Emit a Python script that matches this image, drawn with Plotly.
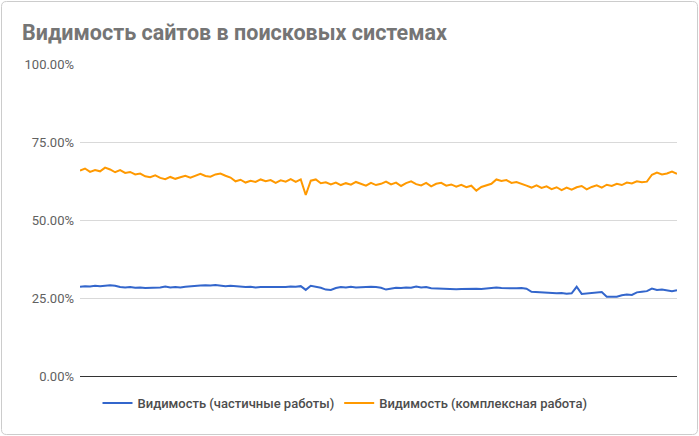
import plotly.graph_objects as go

# Series values in percent (120 samples each)
partial = [28.6, 28.8, 28.7, 28.9, 28.8, 29.0, 29.1, 28.9, 28.5, 28.4,
           28.5, 28.3, 28.4, 28.2, 28.3, 28.2, 28.4, 28.7, 28.4, 28.5,
           28.4, 28.6, 28.8, 28.9, 29.0, 29.1, 29.0, 29.2, 29.0, 28.8,
           28.9, 28.7, 28.6, 28.5, 28.6, 28.4, 28.5, 28.5, 28.6, 28.4,
           28.6, 28.5, 28.7, 28.6, 28.8, 27.6, 28.9, 28.7, 28.3, 27.7,
           27.6, 28.2, 28.5, 28.4, 28.6, 28.4, 28.5, 28.4, 28.6, 28.5,
           28.3, 27.7, 28.1, 28.3, 28.2, 28.4, 28.3, 28.7, 28.4, 28.5,
           28.1, 28.0, 27.9, 27.8, 27.9, 27.8, 27.9, 28.0, 27.9, 28.0,
           27.9, 28.1, 28.3, 28.4, 28.2, 28.1, 28.2, 28.1, 28.2, 28.0,
           27.0, 26.9, 26.7, 26.8, 26.6, 26.5, 26.6, 26.4, 26.5, 28.6,
           26.3, 26.4, 26.5, 26.6, 26.9, 25.4, 25.3, 25.4, 25.9, 26.1,
           26.0, 26.8, 27.0, 27.2, 28.0, 27.6, 27.7, 27.4, 27.2, 27.5]

complex_ = [65.8, 66.5, 65.4, 66.0, 65.6, 66.8, 66.2, 65.3, 66.0, 65.1,
            65.4, 64.6, 64.9, 64.0, 63.7, 64.3, 63.5, 63.1, 63.8, 63.2,
            63.7, 64.2, 63.6, 64.3, 64.8, 64.1, 63.9, 64.6, 64.9, 64.2,
            63.6, 62.4, 62.9, 62.0, 62.6, 62.2, 63.0, 62.4, 62.8, 61.9,
            62.7, 62.3, 63.1, 62.2, 63.0, 58.0, 62.6, 63.0, 61.8, 62.1,
            61.4, 62.0, 61.2, 61.8, 61.3, 62.2, 61.5, 61.0, 61.9, 61.2,
            61.6, 62.3, 61.4, 62.0, 60.9, 61.8, 62.4, 61.5, 61.1, 61.9,
            60.8, 61.6, 61.9, 61.0, 61.4, 60.7, 61.3, 60.5, 61.0, 59.4,
            60.6, 61.2, 61.6, 63.0, 62.5, 62.8, 61.9, 62.2, 61.5, 61.0,
            60.4, 61.1, 60.3, 60.8, 59.9, 60.5, 59.6, 60.4, 59.7, 60.5,
            60.9, 59.8, 60.6, 61.1, 60.4, 61.3, 60.9, 61.6, 61.2, 62.0,
            61.7, 62.4, 62.1, 62.3, 64.5, 65.2, 64.6, 64.9, 65.5, 64.8]

x_idx = list(range(len(partial)))
y_ticks = [0, 0.25, 0.5, 0.75, 1.0]
names = ["Видимость (частичные работы)", "Видимость (комплексная работа)"]
title = "Видимость сайтов в поисковых системах"

fig = go.Figure()
fig.add_trace(go.Scatter(x=x_idx, y=[v / 100 for v in partial], mode="lines",
                         name=names[0], line=dict(color="#3366cc", width=2)))
fig.add_trace(go.Scatter(x=x_idx, y=[v / 100 for v in complex_], mode="lines",
                         name=names[1], line=dict(color="#ff9900", width=2)))

# rounded outer border (paper coordinates; plot area is 597 x 312 px)
px_x = lambda p: (p - 80) / 597
px_y = lambda p: (376 - p) / 312
L, R, T, B, r = 1.5, 697.5, 1.5, 434.5, 5
border_path = (
    f"M {px_x(L + r)},{px_y(T)} L {px_x(R - r)},{px_y(T)} "
    f"Q {px_x(R)},{px_y(T)} {px_x(R)},{px_y(T + r)} "
    f"L {px_x(R)},{px_y(B - r)} Q {px_x(R)},{px_y(B)} {px_x(R - r)},{px_y(B)} "
    f"L {px_x(L + r)},{px_y(B)} Q {px_x(L)},{px_y(B)} {px_x(L)},{px_y(B - r)} "
    f"L {px_x(L)},{px_y(T + r)} Q {px_x(L)},{px_y(T)} {px_x(L + r)},{px_y(T)} Z"
)

fig.update_layout(
    width=699, height=436,
    margin=dict(l=80, r=22, t=64, b=60),
    paper_bgcolor="white", plot_bgcolor="white",
    font=dict(family="Roboto, Arial, sans-serif", color="#616161"),
    title=dict(text="<b>" + title + "</b>", x=22 / 699, xanchor="left",
               y=1 - 32 / 436, yanchor="middle",
               font=dict(size=21.5, color="#757575", family="Roboto, Arial, sans-serif")),
    showlegend=True,
    legend=dict(orientation="h", x=(345 - 80) / 597, xanchor="center",
                y=(376 - 403) / 312, yanchor="middle",
                itemwidth=30,
                font=dict(size=13, color="#4d4d4d", weight=500)),
    xaxis=dict(range=[0, len(partial) - 1], showgrid=False, showticklabels=False,
               zeroline=False, showline=True, linecolor="#333333", linewidth=1,
               ticks=""),
    yaxis=dict(range=[0, 1], tickvals=y_ticks, tickformat=".2%",
               showgrid=True, gridcolor="#d9d9d9", gridwidth=1,
               zeroline=False, ticks="", ticklen=0, ticklabelstandoff=5,
               tickfont=dict(size=13, color="#616161")),
    shapes=[dict(type="path", xref="paper", yref="paper", path=border_path,
                 line=dict(color="#cccccc", width=1), layer="below")],
)

fig.write_html("out.html", config={"displayModeBar": False},
               post_script="document.body.style.margin='0';document.body.style.overflow='hidden';")
